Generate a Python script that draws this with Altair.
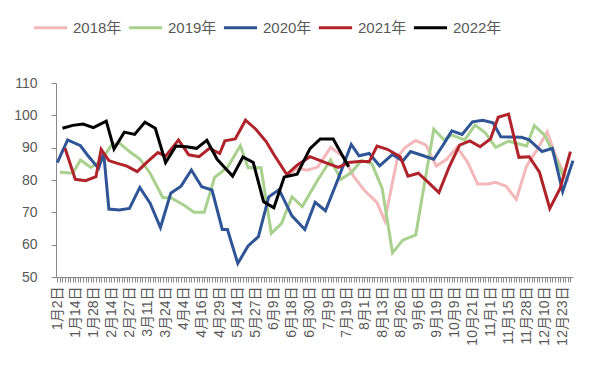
import json
import altair as alt
import pandas as pd

YEARS = ["2018年", "2019年", "2020年", "2021年", "2022年"]
COLORS = ["#F4B8BA", "#A9D18E", "#2F5597", "#B0232A", "#000000"]

X_LABELS = ["1月2日", "1月14日", "1月28日", "2月14日", "2月27日", "3月11日", "3月24日",
            "4月4日", "4月16日", "4月29日", "5月14日", "5月27日", "6月9日", "6月18日",
            "6月30日", "7月9日", "7月19日", "8月1日", "8月13日", "8月26日", "9月6日",
            "9月19日", "10月9日", "10月21日", "11月1日", "11月15日", "11月28日",
            "12月10日", "12月23日"]
Y_TICKS = [50, 60, 70, 80, 90, 100, 110]

# category index along the date axis, and value, per year
x_2018 = [89, 93, 97, 101, 106, 111, 115, 119, 124, 127, 132, 135, 139, 143, 147, 151,
          155, 159, 163, 167, 170, 174, 178, 182, 186, 190, 193, 198]
v_2018 = [81.3, 83.6, 83.0, 84.0, 90.1, 87.2, 81.0, 76.9, 73.0, 67.4, 87.2, 90.1, 92.2,
          90.8, 84.3, 86.4, 90.1, 85.7, 78.8, 78.8, 79.3, 78.1, 74.0, 84.3, 89.3, 94.9,
          88.0, 79.5]

x_2019 = [1, 6, 9, 13, 17, 21, 24, 28, 32, 36, 41, 44, 49, 53, 57, 61, 66, 71, 74, 79,
          83, 87, 91, 95, 101, 106, 110, 114, 118, 122, 126, 130, 134, 139, 146, 150, 153,
          158, 162, 166, 170, 175, 182, 185, 189, 193, 196]
v_2019 = [82.4, 82.1, 86.2, 83.9, 85.9, 90.8, 91.5, 88.8, 86.5, 82.1, 74.5, 74.5, 72.3,
          70.0, 70.0, 80.8, 83.9, 90.6, 83.8, 83.8, 63.5, 66.6, 74.8, 71.8, 80.0, 86.2,
          80.2, 82.3, 86.0, 85.0, 77.4, 57.5, 61.4, 63.0, 95.7, 92.4, 93.9, 92.4, 97.0,
          94.6, 90.1, 92.0, 90.5, 96.8, 93.9, 87.2, 81.5]

x_2020 = [0, 4, 9, 12, 16, 18, 20, 24, 28, 32, 36, 40, 44, 48, 52, 56, 60, 64, 66, 70,
          74, 78, 82, 86, 91, 96, 100, 104, 109, 114, 117, 121, 125, 130, 134, 137, 142,
          146, 150, 153, 157, 161, 165, 169, 172, 176, 180, 183, 188, 192, 196, 200]
v_2020 = [85.4, 92.4, 90.6, 87.4, 83.6, 88.3, 71.0, 70.7, 71.2, 77.7, 72.8, 65.3, 75.9,
          78.1, 83.1, 77.9, 76.9, 64.7, 64.7, 54.2, 59.6, 62.5, 74.8, 77.0, 68.9, 64.7,
          73.1, 70.5, 80.5, 91.0, 87.5, 88.2, 84.4, 87.9, 85.9, 88.8, 87.5, 86.4, 91.3,
          95.2, 94.1, 98.0, 98.5, 97.7, 93.4, 93.3, 93.2, 92.4, 88.8, 89.8, 76.4, 86.0]

x_2021 = [3, 7, 11, 15, 17, 20, 23, 27, 31, 35, 39, 42, 47, 51, 55, 59, 63, 65, 69, 73,
          77, 81, 84, 89, 93, 98, 104, 109, 113, 117, 121, 124, 128, 133, 136, 140, 144,
          148, 152, 156, 160, 164, 168, 171, 175, 179, 183, 187, 191, 195, 199]
v_2021 = [89.8, 80.2, 79.8, 81.0, 89.5, 86.0, 85.2, 84.3, 82.6, 85.7, 88.5, 87.4, 92.4,
          87.8, 87.2, 89.8, 88.2, 92.1, 92.7, 98.5, 95.7, 91.9, 87.9, 81.7, 84.6, 87.2,
          85.4, 83.9, 85.4, 85.7, 85.7, 90.5, 89.5, 87.2, 81.2, 82.1, 79.2, 76.1, 84.1,
          90.8, 92.1, 90.3, 92.7, 99.4, 100.4, 87.0, 87.2, 82.4, 71.2, 77.4, 88.8]

x_2022 = [2, 6, 10, 14, 19, 22, 26, 30, 34, 38, 42, 46, 50, 54, 58, 62, 65, 68, 72, 76,
          80, 84, 88, 93, 98, 102, 107, 113]
v_2022 = [96.0, 96.9, 97.3, 96.2, 98.2, 89.6, 94.8, 94.1, 97.9, 96.0, 85.4, 90.5, 90.3,
          89.8, 92.3, 86.4, 83.8, 81.2, 87.1, 85.4, 73.3, 71.4, 80.9, 81.8, 89.7, 92.7,
          92.7, 84.1]

series = [("2018年", x_2018, v_2018), ("2019年", x_2019, v_2019),
          ("2020年", x_2020, v_2020), ("2021年", x_2021, v_2021),
          ("2022年", x_2022, v_2022)]
rows = []
for name, xs, vs in series:
    for x, v in zip(xs, vs):
        rows.append({"year": name, "pos": x, "value": v})
df = pd.DataFrame(rows)

FONT = "Liberation Sans Narrow, Liberation Sans, Noto Sans CJK SC"
TXT = "#595959"
AX = "#898989"
TICKS = list(range(0, 200))
label_expr = ("datum.value % 7 == 0 ? " + json.dumps(X_LABELS, ensure_ascii=False)
              + "[datum.value / 7] : ''")

chart = alt.Chart(df).mark_line(strokeWidth=3).encode(
    x=alt.X("pos:Q",
            scale=alt.Scale(domain=[-0.5, 200], nice=False, zero=False),
            axis=alt.Axis(values=TICKS, labelExpr=label_expr, labelAngle=-90,
                          title=None, grid=False, tickSize=5, labelFontSize=14,
                          labelColor=TXT, domainColor=AX, tickColor=AX,
                          labelPadding=4, labelOverlap=False, labelFlush=False,
                          labelBound=False, labelFont=FONT)),
    y=alt.Y("value:Q",
            scale=alt.Scale(domain=[50, 110], nice=False, zero=False),
            axis=alt.Axis(values=Y_TICKS, title=None, grid=False, tickSize=5,
                          labelFontSize=14, labelColor=TXT, domainColor=AX,
                          tickColor=AX, labelPadding=14, labelFont=FONT)),
    color=alt.Color("year:N",
                    scale=alt.Scale(domain=YEARS, range=COLORS),
                    legend=alt.Legend(orient="none", legendX=-24, legendY=-74,
                                      direction="horizontal", columns=5, title=None,
                                      symbolType="stroke", symbolSize=1100,
                                      symbolStrokeWidth=3, labelFontSize=15,
                                      labelColor=TXT, labelFont=FONT,
                                      columnPadding=0, labelOffset=4, padding=0)),
).properties(
    width=517, height=194,
    autosize=alt.AutoSizeParams(type="none"),
    padding={"left": 48, "top": 75, "right": 12, "bottom": 80},
).configure_view(stroke=None)

chart.save("out.html", embed_options={"renderer": "svg", "actions": False})
